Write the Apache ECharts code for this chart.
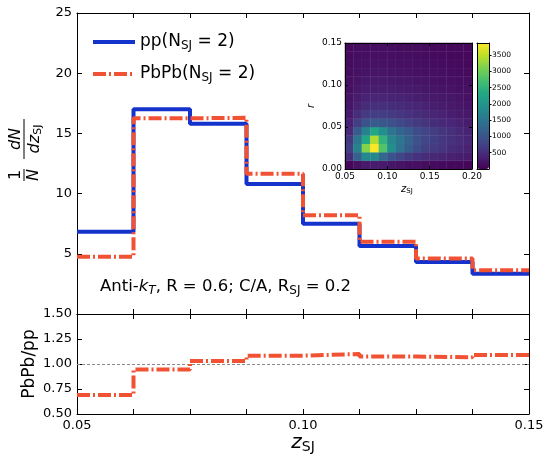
<!DOCTYPE html>
<html><head><meta charset="utf-8">
<script src="https://cdn.jsdelivr.net/npm/echarts@6/dist/echarts.min.js"></script>
<style>html,body{margin:0;padding:0;background:#fff}#c{width:550px;height:463px}</style>
</head><body><div id="c"></div>
<script>
// ---- data ----
const binEdges = [0.05, 0.0625, 0.075, 0.0875, 0.1, 0.1125, 0.125, 0.1375, 0.15];
const ppValues = [6.83, 17.0, 15.8, 10.8, 7.5, 5.64, 4.31, 3.34];
const pbpbValues = [4.75, 16.25, 16.3, 11.65, 8.2, 6.0, 4.61, 3.64];
const ratioValues = [0.69, 0.945, 1.03, 1.083, 1.10, 1.075, 1.068, 1.09];
const seriesNames = ['pp(N_SJ = 2)', 'PbPb(N_SJ = 2)'];
const ratioXLabels = ['0.05', '0.10', '0.15'];
const insetZBins = ['0.055','0.065','0.075','0.085','0.095','0.105','0.115','0.125','0.135','0.145','0.155','0.165','0.175','0.185','0.195'];
const insetRBins = ['0.005','0.015','0.025','0.035','0.045','0.055','0.065','0.075','0.085','0.095','0.105','0.115','0.125','0.135','0.145'];
// rows: r bins from bottom (0-0.01) to top (0.14-0.15); columns: z bins 0.05..0.20
const insetCounts = [
  [60, 180, 280, 300, 280, 240, 200, 170, 150, 130, 110, 100, 90, 80, 70],
  [500, 1200, 1800, 1800, 1300, 1000, 800, 650, 550, 480, 430, 390, 350, 320, 290],
  [700, 1700, 3150, 3850, 2800, 1900, 1450, 1150, 900, 750, 650, 580, 500, 440, 380],
  [600, 1500, 2300, 3400, 2500, 1800, 1500, 1200, 950, 800, 700, 620, 540, 470, 400],
  [450, 1100, 1700, 2300, 1900, 1500, 1250, 1100, 900, 780, 690, 600, 520, 450, 380],
  [350, 700, 1000, 1100, 1050, 950, 850, 750, 650, 580, 500, 450, 400, 350, 300],
  [280, 500, 650, 700, 700, 650, 600, 550, 500, 450, 400, 360, 320, 280, 250],
  [230, 380, 480, 520, 520, 500, 470, 430, 400, 360, 330, 300, 270, 240, 210],
  [200, 300, 380, 400, 400, 390, 370, 350, 320, 300, 270, 250, 230, 200, 180],
  [170, 250, 300, 320, 320, 310, 300, 280, 260, 240, 220, 200, 190, 170, 150],
  [150, 210, 250, 260, 260, 250, 240, 230, 210, 200, 180, 170, 160, 140, 130],
  [130, 180, 210, 220, 220, 210, 200, 190, 180, 170, 150, 140, 130, 120, 110],
  [110, 150, 180, 190, 190, 180, 170, 160, 150, 140, 130, 120, 110, 100, 90],
  [100, 130, 150, 160, 160, 150, 140, 140, 130, 120, 110, 100, 90, 85, 80],
  [90, 110, 130, 140, 140, 130, 120, 120, 110, 100, 90, 85, 80, 75, 70]
];
const cbarTicks = [500, 1000, 1500, 2000, 2500, 3000, 3500];
const cbarRange = [0, 3870];

// ---- styles ----
const FONT = 'DejaVu Sans';
const BLUE = '#1432cc';
const RED = '#f25234';
const viridis = ['#440154','#482475','#414487','#355f8d','#2a788e','#21918c','#22a884','#44bf70','#7ad151','#bddf26','#fde725'];

function stepData(vals) {
  const d = vals.map((v, i) => [binEdges[i], v]);
  d.push([binEdges[binEdges.length - 1], vals[vals.length - 1]]);
  return d;
}
const heatData = [];
insetCounts.forEach((row, r) => row.forEach((v, c) => heatData.push([c, r, v])));

const line = {show: true, onZero: false, lineStyle: {color: '#000', width: 1}};
function frameAxis(o) {
  return Object.assign({
    type: 'value', axisLine: line, splitLine: {show: false},
    axisTick: {show: true, inside: true, length: 5, lineStyle: {color: '#000', width: 1}},
    axisLabel: {show: false}
  }, o);
}
const lbl = (size, extra) => Object.assign({show: true, color: '#000', fontFamily: FONT, fontSize: size}, extra || {});
const richSub = (size) => ({
  sub: {fontFamily: FONT, fontSize: size, verticalAlign: 'bottom', lineHeight: size + 2, color: '#000'},
  it: {fontFamily: FONT, fontStyle: 'italic', fontSize: size, color: '#000'}
});

const chart = echarts.init(document.getElementById('c'), null, {renderer: 'canvas'});
chart.setOption({
  animation: false,
  backgroundColor: '#fff',
  grid: [
    {left: 77, top: 13, width: 452, height: 301},
    {left: 77, top: 314, width: 452, height: 100},
    {left: 345, top: 43, width: 127, height: 126},
    {left: 477, top: 43, width: 12, height: 126}
  ],
  xAxis: [
    frameAxis({gridIndex: 0, min: 0.05, max: 0.15, interval: 0.0125, position: 'bottom'}),
    frameAxis({gridIndex: 0, min: 0.05, max: 0.15, interval: 0.0125, position: 'top'}),
    frameAxis({gridIndex: 1, min: 0.05, max: 0.15, interval: 0.0125, position: 'bottom',
      axisLabel: lbl(13, {margin: 5, formatter: v => {
        const s = v.toFixed(2);
        return (Math.abs(v * 20 - Math.round(v * 20)) < 1e-6 && ratioXLabels.indexOf(s) >= 0) ? s : '';
      }})}),
    frameAxis({gridIndex: 1, min: 0.05, max: 0.15, interval: 0.0125, position: 'top'}),
    {type: 'category', gridIndex: 2, data: insetZBins, show: false},
    frameAxis({gridIndex: 2, min: 0.05, max: 0.20, interval: 0.05, position: 'bottom', z: 10,
      axisTick: {show: true, inside: true, length: 3, lineStyle: {color: '#000'}},
      axisLabel: lbl(9, {margin: 3, formatter: v => v.toFixed(2)})}),
    frameAxis({gridIndex: 2, min: 0.05, max: 0.20, interval: 0.05, position: 'top', z: 10,
      axisTick: {show: true, inside: true, length: 3, lineStyle: {color: '#000'}}}),
    frameAxis({gridIndex: 3, min: 0, max: 1, position: 'bottom', z: 10, axisTick: {show: false}}),
    frameAxis({gridIndex: 3, min: 0, max: 1, position: 'top', z: 10, axisTick: {show: false}})
  ],
  yAxis: [
    frameAxis({gridIndex: 0, min: 0, max: 25, interval: 5, position: 'left',
      axisLabel: lbl(13, {margin: 5, showMinLabel: false})}),
    frameAxis({gridIndex: 0, min: 0, max: 25, interval: 5, position: 'right'}),
    frameAxis({gridIndex: 1, min: 0.5, max: 1.5, interval: 0.25, position: 'left',
      axisLabel: lbl(13, {margin: 5, formatter: v => v.toFixed(2)})}),
    frameAxis({gridIndex: 1, min: 0.5, max: 1.5, interval: 0.25, position: 'right'}),
    {type: 'category', gridIndex: 2, data: insetRBins, show: false},
    frameAxis({gridIndex: 2, min: 0, max: 0.15, interval: 0.05, position: 'left', z: 10,
      axisTick: {show: true, inside: true, length: 3, lineStyle: {color: '#000'}},
      axisLabel: lbl(9, {margin: 3, formatter: v => v.toFixed(2)})}),
    frameAxis({gridIndex: 2, min: 0, max: 0.15, interval: 0.05, position: 'right', z: 10,
      axisTick: {show: true, inside: true, length: 3, lineStyle: {color: '#000'}}}),
    frameAxis({gridIndex: 3, min: cbarRange[0], max: cbarRange[1], position: 'right', z: 10,
      axisTick: {show: true, inside: false, length: 2.5, customValues: cbarTicks, lineStyle: {color: '#000'}},
      axisLabel: lbl(7.5, {margin: 3, customValues: cbarTicks, formatter: v => String(v)})}),
    frameAxis({gridIndex: 3, min: cbarRange[0], max: cbarRange[1], position: 'left', z: 10, axisTick: {show: false}})
  ],
  visualMap: {
    type: 'continuous', seriesIndex: 3, min: cbarRange[0], max: cbarRange[1],
    inRange: {color: viridis}, calculable: false, left: 477, top: 43,
    itemWidth: 12, itemHeight: 126, padding: 0, text: null, showLabel: false
  },
  legend: {
    left: 86, top: 27, orient: 'vertical', itemWidth: 42, itemHeight: 14, itemGap: 12,
    data: seriesNames,
    lineStyle: {width: 4},
    itemStyle: {opacity: 0},
    textStyle: {fontFamily: FONT, fontSize: 17, color: '#000', lineHeight: 20, rich: richSub(12)},
    formatter: n => n.replace('_SJ', '{sub|SJ}')
  },
  series: [
    {name: seriesNames[0], type: 'line', step: 'end', xAxisIndex: 0, yAxisIndex: 0, symbol: 'none',
      data: stepData(ppValues), lineStyle: {color: BLUE, width: 4}, itemStyle: {color: BLUE}, z: 3},
    {name: seriesNames[1], type: 'line', step: 'end', xAxisIndex: 0, yAxisIndex: 0, symbol: 'none',
      data: stepData(pbpbValues), lineStyle: {color: RED, width: 4, type: [13, 3, 2, 3]}, itemStyle: {color: RED}, z: 4},
    {name: 'ratio', type: 'line', step: 'end', xAxisIndex: 2, yAxisIndex: 2, symbol: 'none',
      data: stepData(ratioValues), lineStyle: {color: RED, width: 4, type: [13, 3, 2, 3]}, itemStyle: {color: RED}, z: 4,
      markLine: {silent: true, symbol: 'none', label: {show: false}, z: 1,
        lineStyle: {color: '#888', width: 1, type: [3, 2]}, data: [{yAxis: 1.0}]}},
    {name: 'inset', type: 'heatmap', xAxisIndex: 4, yAxisIndex: 4, data: heatData,
      itemStyle: {borderColor: 'rgba(255,255,255,0.08)', borderWidth: 0.5}}
  ],
  graphic: [
    {type: 'group', x: 24, y: 150, rotation: Math.PI / 2, children: [
      {type: 'text', x: -25, y: -8, style: {text: '1', font: '16px "DejaVu Sans"', align: 'center', verticalAlign: 'middle', fill: '#000'}},
      {type: 'line', shape: {x1: -31, y1: 0, x2: -19, y2: 0}, style: {stroke: '#000', lineWidth: 1}},
      {type: 'text', x: -25, y: 10, style: {text: 'N', font: 'italic 16px "DejaVu Sans"', align: 'center', verticalAlign: 'middle', fill: '#000'}},
      {type: 'text', x: 11, y: -8, style: {text: 'dN', font: 'italic 16px "DejaVu Sans"', align: 'center', verticalAlign: 'middle', fill: '#000'}},
      {type: 'line', shape: {x1: -9, y1: 0, x2: 31, y2: 0}, style: {stroke: '#000', lineWidth: 1}},
      {type: 'text', x: 11, y: 11, style: {text: '{it|dz}{sub|SJ}', align: 'center', verticalAlign: 'middle',
        rich: {it: {fontFamily: FONT, fontStyle: 'italic', fontSize: 16, fill: '#000', lineHeight: 18},
               sub: {fontFamily: FONT, fontSize: 11, verticalAlign: 'bottom', lineHeight: 12, fill: '#000'}}}}
    ]},
    {type: 'text', x: 30, y: 364, rotation: Math.PI / 2, style: {text: 'PbPb/pp', font: '17px "DejaVu Sans"', align: 'center', verticalAlign: 'middle', fill: '#000'}},
    {type: 'text', x: 303, y: 443, style: {text: '{it|z}{sub|SJ}', align: 'center', verticalAlign: 'middle',
      rich: {it: {fontFamily: FONT, fontStyle: 'italic', fontSize: 20, fill: '#000', lineHeight: 22},
             sub: {fontFamily: FONT, fontSize: 14, verticalAlign: 'bottom', lineHeight: 15, fill: '#000'}}}},
    {type: 'text', x: 100, y: 287, style: {text: 'Anti-{it|k}{itsub|T}, R = 0.6; C/A, R{sub|SJ} = 0.2', verticalAlign: 'middle',
      font: '16.5px "DejaVu Sans"', fill: '#000', lineHeight: 20,
      rich: {it: {fontFamily: FONT, fontStyle: 'italic', fontSize: 16.5, fill: '#000', lineHeight: 20},
             itsub: {fontFamily: FONT, fontStyle: 'italic', fontSize: 12, verticalAlign: 'bottom', lineHeight: 13, fill: '#000'},
             sub: {fontFamily: FONT, fontSize: 12, verticalAlign: 'bottom', lineHeight: 13, fill: '#000'}}}},
    {type: 'text', x: 407, y: 189, style: {text: '{it|z}{sub|SJ}', align: 'center', verticalAlign: 'middle',
      rich: {it: {fontFamily: FONT, fontStyle: 'italic', fontSize: 10, fill: '#000', lineHeight: 11},
             sub: {fontFamily: FONT, fontSize: 7, verticalAlign: 'bottom', lineHeight: 8, fill: '#000'}}}},
    {type: 'text', x: 311, y: 106, rotation: Math.PI / 2, style: {text: 'r', font: 'italic 10px "DejaVu Sans"', align: 'center', verticalAlign: 'middle', fill: '#000'}}
  ]
});
</script></body></html>
